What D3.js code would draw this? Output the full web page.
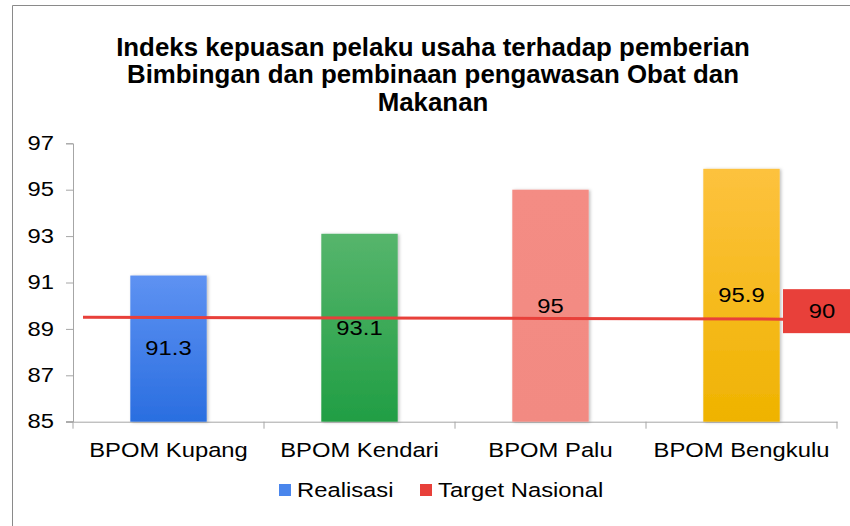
<!DOCTYPE html>
<html>
<head>
<meta charset="utf-8">
<script src="https://cdn.jsdelivr.net/npm/d3@7"></script>
<style>
  body { margin: 0; background: #fff; }
  svg { display: block; }
  text { font-family: "Liberation Sans", Arial, sans-serif; fill: #000; }
</style>
</head>
<body>
<svg id="chart" width="850" height="526"></svg>
<script>
const categories = ['BPOM Kupang', 'BPOM Kendari', 'BPOM Palu', 'BPOM Bengkulu'];
const realisasi = [91.3, 93.1, 95, 95.9];
const target_line = [89.5, 89.47, 89.45, 89.42]; // where the red line sits in the picture
const target_label = 90;
const y_ticks = [85, 87, 89, 91, 93, 95, 97];
const title_lines = [
  'Indeks kepuasan pelaku usaha terhadap pemberian',
  'Bimbingan dan pembinaan pengawasan Obat dan',
  'Makanan'
];
const bar_colors = [
  ['#5e92f2', '#2a6ee0'],
  ['#56b56c', '#219e44'],
  ['#f48c84', '#f28a82'],
  ['#fdc23e', '#efb300']
];
const target_color = '#e8403a';

const svg = d3.select('#chart');
const margin = { left: 73, right: 13, top: 143.3, bottom: 104.3 };
const W = 850, H = 526;
const SX = 1.22; // text in the original is drawn a bit wide

// widen text horizontally while keeping its anchor in place
function stretch(sel, sx) {
  sel.each(function () {
    const t = d3.select(this);
    const xv = +t.attr('x') || 0;
    t.attr('x', xv / sx).attr('transform', `scale(${sx},1)`);
    t.selectAll('tspan').each(function () {
      const ts = d3.select(this);
      if (ts.attr('x') != null) ts.attr('x', +ts.attr('x') / sx);
    });
  });
}

// chart border
svg.append('path')
  .attr('d', `M12.5,${H} V5.5 H${W}`)
  .attr('fill', 'none')
  .attr('stroke', '#8a8a8a')
  .attr('stroke-width', 1);

// gradients + shadow
const defs = svg.append('defs');
bar_colors.forEach((c, i) => {
  const g = defs.append('linearGradient')
    .attr('id', 'grad' + i)
    .attr('x1', 0).attr('y1', 0).attr('x2', 0).attr('y2', 1);
  g.append('stop').attr('offset', '0%').attr('stop-color', c[0]);
  g.append('stop').attr('offset', '100%').attr('stop-color', c[1]);
});
const shadow = defs.append('filter').attr('id', 'shadow')
  .attr('x', '-20%').attr('y', '-10%').attr('width', '140%').attr('height', '120%');
shadow.append('feDropShadow')
  .attr('dx', 1.5).attr('dy', 0.5).attr('stdDeviation', 1.5)
  .attr('flood-color', '#000').attr('flood-opacity', 0.25);

const x = d3.scaleBand()
  .domain(categories)
  .range([margin.left, W - margin.right])
  .paddingInner(0.6)
  .paddingOuter(0.3);

const y = d3.scaleLinear()
  .domain([85, 97])
  .range([H - margin.bottom, margin.top]);

// title
const title = svg.append('text')
  .attr('x', 433)
  .attr('y', 56)
  .attr('text-anchor', 'middle')
  .style('font-weight', 'bold')
  .style('font-size', '26px');
title.selectAll('tspan')
  .data(title_lines)
  .enter()
  .append('tspan')
  .attr('x', 433)
  .attr('dy', (d, i) => i === 0 ? 0 : 27.5)
  .text(d => d);
stretch(title, 0.995);

// y axis
const y_axis = svg.append('g')
  .attr('transform', `translate(${margin.left},0)`)
  .call(d3.axisLeft(y).tickValues(y_ticks).tickSize(7).tickPadding(12));
y_axis.selectAll('text').style('font-size', '19.5px');
stretch(y_axis.selectAll('text'), SX);

// x axis
const band_edges = categories.map(c => x(c) - x.step() * x.paddingInner() / 2);
band_edges.push(W - margin.right);
const x_axis = svg.append('g')
  .attr('transform', `translate(0,${y(85)})`)
  .call(d3.axisBottom(x).tickSize(0).tickPadding(21));
x_axis.selectAll('text').style('font-size', '19.5px');
stretch(x_axis.selectAll('text'), SX);
x_axis.selectAll('.tick-edge')
  .data(band_edges)
  .enter()
  .append('line')
  .attr('x1', d => d).attr('x2', d => d)
  .attr('y1', 0).attr('y2', 7)
  .attr('stroke', '#a6a6a6');
x_axis.append('line')
  .attr('x1', margin.left - 7).attr('x2', margin.left)
  .attr('y1', 0).attr('y2', 0)
  .attr('stroke', '#a6a6a6');

svg.selectAll('.domain').attr('stroke', '#a6a6a6');
svg.selectAll('.tick line').attr('stroke', '#a6a6a6');

// bars
svg.selectAll('.bar')
  .data(realisasi)
  .enter()
  .append('rect')
  .attr('class', 'bar')
  .attr('x', (d, i) => x(categories[i]))
  .attr('width', x.bandwidth())
  .attr('y', d => y(d))
  .attr('height', d => y(85) - y(d))
  .attr('fill', (d, i) => `url(#grad${i})`)
  .attr('filter', 'url(#shadow)');

// target line
const line = d3.line()
  .x((d, i) => i === 0 ? margin.left + 10 : (i === target_line.length - 1 ? 783 : x(categories[i]) + x.bandwidth() / 2))
  .y(d => y(d));
svg.append('path')
  .datum(target_line)
  .attr('d', line)
  .attr('fill', 'none')
  .attr('stroke', target_color)
  .attr('stroke-width', 3);

// bar value labels
const bar_labels = svg.selectAll('.bar-label')
  .data(realisasi)
  .enter()
  .append('text')
  .attr('class', 'bar-label')
  .attr('x', (d, i) => x(categories[i]) + x.bandwidth() / 2)
  .attr('y', d => (y(d) + y(85)) / 2)
  .attr('dy', '0.35em')
  .attr('text-anchor', 'middle')
  .style('font-size', '19.5px')
  .text(d => d);
stretch(bar_labels, SX);

// target label box
const last_y = y(target_line[target_line.length - 1]);
svg.append('rect')
  .attr('x', 783)
  .attr('y', last_y - 30)
  .attr('width', 80)
  .attr('height', 44)
  .attr('fill', target_color);
const tl = svg.append('text')
  .attr('x', 822)
  .attr('y', last_y - 8)
  .attr('dy', '0.35em')
  .attr('text-anchor', 'middle')
  .style('font-size', '19.5px')
  .text(target_label);
stretch(tl, SX);

// legend
const legend_items = [
  { name: 'Realisasi', color: '#4a86ec', x: 279 },
  { name: 'Target Nasional', color: target_color, x: 420 }
];
const legend = svg.append('g').attr('class', 'legend');
const li = legend.selectAll('g')
  .data(legend_items)
  .enter()
  .append('g')
  .attr('transform', d => `translate(${d.x},490)`);
li.append('rect')
  .attr('x', 0).attr('y', -6)
  .attr('width', 12).attr('height', 12)
  .attr('fill', d => d.color);
const lt = li.append('text')
  .attr('x', 18)
  .attr('dy', '0.35em')
  .style('font-size', '19.5px')
  .text(d => d.name);
stretch(lt, SX);
</script>
</body>
</html>
